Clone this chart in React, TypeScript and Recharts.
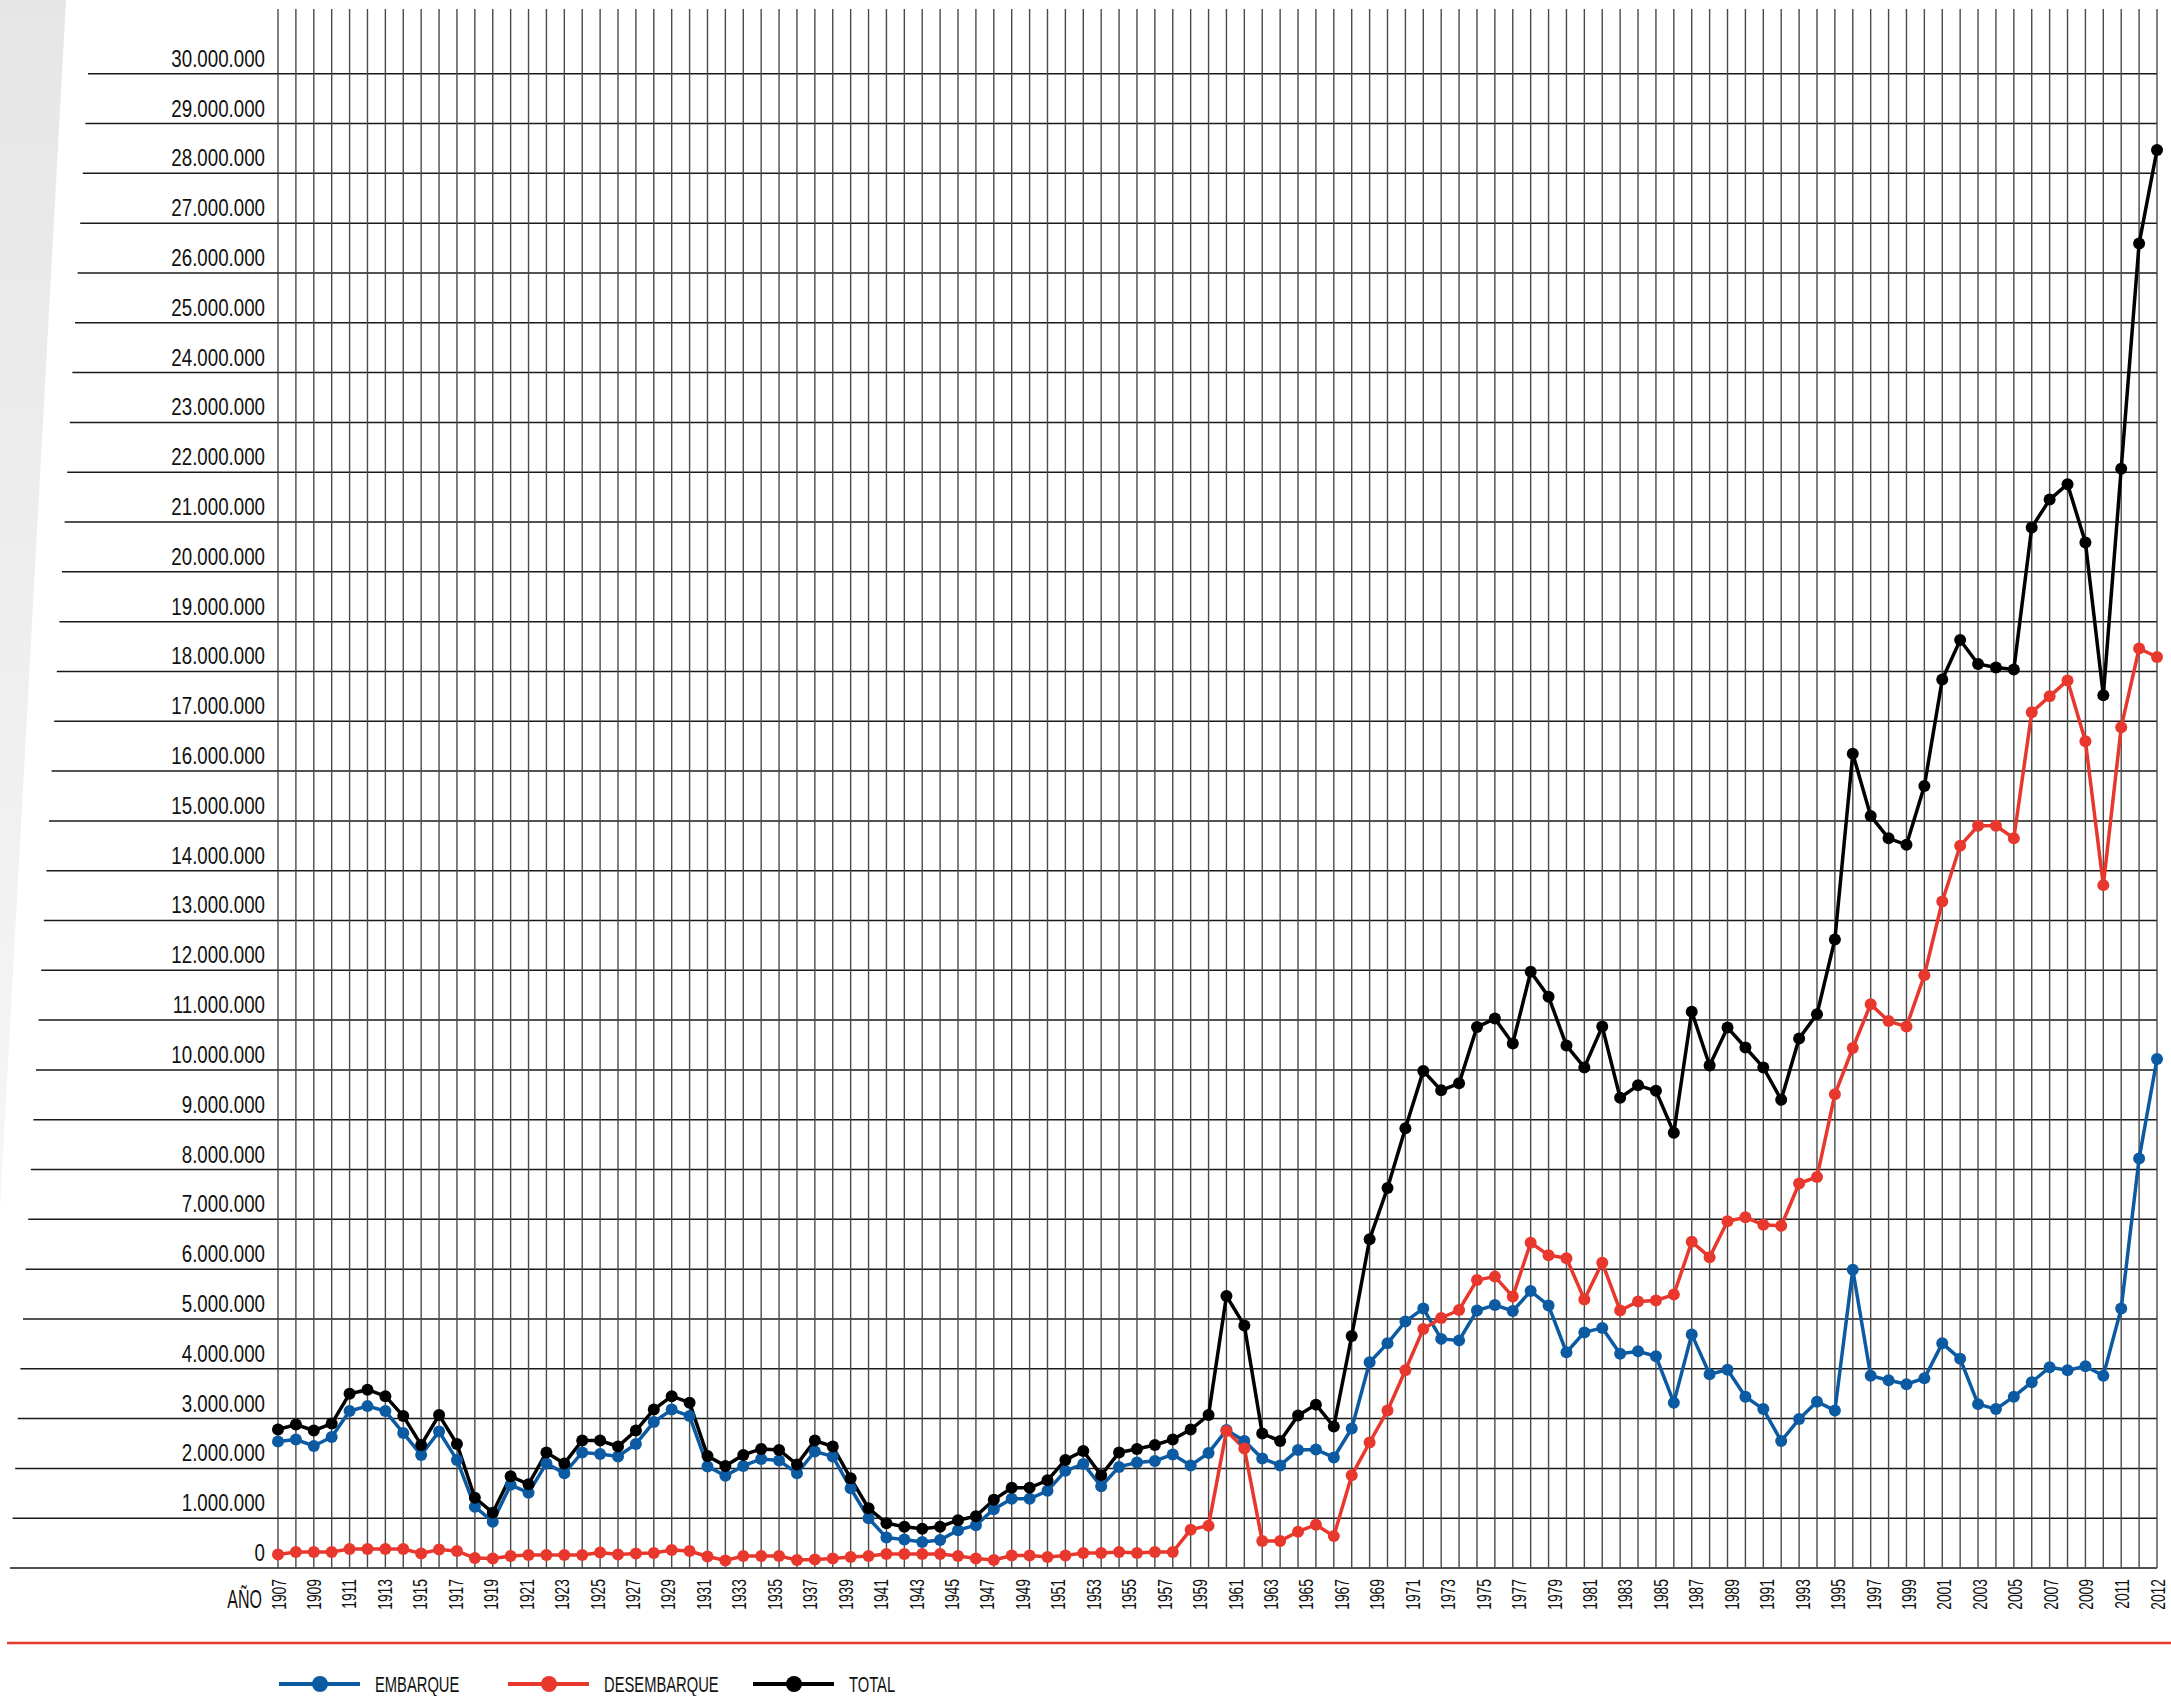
import React from 'react';
import { LineChart, Line, XAxis, YAxis, CartesianGrid, Legend } from 'recharts';

// años 1907 - 2012
const years = Array.from({ length: 106 }, (_, i) => 1907 + i);

// valores en millones
const embarque = [
  2.54, 2.58, 2.45, 2.63, 3.15, 3.25, 3.15, 2.71, 2.27, 2.74,
  2.17, 1.23, 0.93, 1.67, 1.51, 2.10, 1.90, 2.32, 2.29, 2.24,
  2.49, 2.93, 3.18, 3.05, 2.04, 1.85, 2.05, 2.19, 2.16, 1.90,
  2.34, 2.24, 1.60, 1.00, 0.61, 0.57, 0.52, 0.56, 0.76, 0.86,
  1.18, 1.39, 1.39, 1.55, 1.95, 2.09, 1.64, 2.03, 2.12, 2.15,
  2.28, 2.06, 2.31, 2.77, 2.55, 2.20, 2.06, 2.37, 2.38, 2.22,
  2.80, 4.13, 4.51, 4.95, 5.21, 4.60, 4.57, 5.17, 5.28, 5.16,
  5.56, 5.27, 4.33, 4.73, 4.82, 4.30, 4.35, 4.25, 3.32, 4.69,
  3.89, 3.98, 3.44, 3.19, 2.55, 2.99, 3.34, 3.16, 5.99, 3.86,
  3.77, 3.69, 3.81, 4.51, 4.20, 3.29, 3.19, 3.44, 3.73, 4.03,
  3.97, 4.05, 3.86, 5.21, 8.22, 10.22,
];

const desembarque = [
  0.27, 0.32, 0.32, 0.32, 0.38, 0.38, 0.38, 0.38, 0.29, 0.37,
  0.34, 0.20, 0.19, 0.24, 0.26, 0.26, 0.26, 0.26, 0.31, 0.27,
  0.29, 0.30, 0.36, 0.34, 0.23, 0.15, 0.24, 0.24, 0.24, 0.16,
  0.17, 0.19, 0.22, 0.24, 0.28, 0.28, 0.28, 0.28, 0.24, 0.19,
  0.16, 0.25, 0.25, 0.22, 0.25, 0.30, 0.30, 0.32, 0.30, 0.32,
  0.32, 0.77, 0.85, 2.75, 2.40, 0.54, 0.54, 0.73, 0.87, 0.64,
  1.86, 2.52, 3.16, 3.97, 4.80, 5.02, 5.18, 5.78, 5.85, 5.45,
  6.53, 6.28, 6.22, 5.39, 6.13, 5.17, 5.35, 5.37, 5.49, 6.55,
  6.24, 6.96, 7.04, 6.89, 6.87, 7.72, 7.85, 9.51, 10.44, 11.32,
  10.98, 10.87, 11.90, 13.38, 14.50, 14.90, 14.90, 14.65, 17.18, 17.50,
  17.82, 16.60, 13.71, 16.88, 18.46, 18.29,
];

const total = [
  2.78, 2.88, 2.76, 2.90, 3.50, 3.58, 3.45, 3.05, 2.47, 3.07,
  2.49, 1.41, 1.11, 1.84, 1.68, 2.32, 2.10, 2.56, 2.56, 2.44,
  2.76, 3.18, 3.45, 3.32, 2.25, 2.05, 2.27, 2.39, 2.37, 2.08,
  2.56, 2.44, 1.80, 1.20, 0.90, 0.83, 0.79, 0.83, 0.96, 1.04,
  1.37, 1.61, 1.61, 1.76, 2.17, 2.35, 1.86, 2.32, 2.39, 2.47,
  2.58, 2.78, 3.07, 5.46, 4.87, 2.70, 2.55, 3.06, 3.28, 2.84,
  4.66, 6.60, 7.63, 8.83, 9.98, 9.59, 9.73, 10.86, 11.03, 10.53,
  11.97, 11.47, 10.49, 10.05, 10.87, 9.44, 9.69, 9.58, 8.74, 11.17,
  10.09, 10.85, 10.45, 10.05, 9.40, 10.63, 11.12, 12.62, 16.35, 15.10,
  14.65, 14.52, 15.70, 17.84, 18.63, 18.15, 18.08, 18.04, 20.89, 21.45,
  21.76, 20.59, 17.52, 22.07, 26.59, 28.47,
];

const yTicks = [
  0, 1000000, 2000000, 3000000, 4000000, 5000000, 6000000, 7000000, 8000000, 9000000,
  10000000, 11000000, 12000000, 13000000, 14000000, 15000000, 16000000, 17000000, 18000000,
  19000000, 20000000, 21000000, 22000000, 23000000, 24000000, 25000000, 26000000, 27000000,
  28000000, 29000000, 30000000,
];

// años rotulados: impares + el último
const labelYears = [...years.filter((y) => y % 2 === 1), 2012];

const BLUE = '#0b5aa2';
const RED = '#e8382d';
const BLACK = '#000000';
const FONT = "'Liberation Sans', Arial, sans-serif";

const data = years.map((year, i) => ({
  year,
  embarque: embarque[i] * 1000000,
  desembarque: desembarque[i] * 1000000,
  total: total[i] * 1000000,
}));

const fmt = (v: number) => String(v).replace(/\B(?=(\d{3})+(?!\d))/g, '.');

const YTick = (props: any) => {
  const { x, y, payload } = props;
  const v = payload.value;
  // las líneas se prolongan hacia la izquierda con borde inclinado
  const xLeft = 10 + 78 * (v / 30000000);
  return (
    <g>
      <line x1={xLeft} x2={x} y1={y} y2={y} stroke="#1a1a1a" strokeWidth={1.5} />
      <g transform={`translate(${x - 13},${y - 7}) scale(0.78,1)`}>
        <text textAnchor="end" fontSize={24} fill="#111" fontFamily={FONT}>{fmt(v)}</text>
      </g>
    </g>
  );
};

const XTick = (props: any) => {
  const { x, y, payload } = props;
  const yr = Number(payload.value);
  if (!labelYears.includes(yr)) return <g />;
  // los rótulos del original se van corriendo un poco a la izquierda
  const drift = yr === 2012 ? 0 : (-17.9 * (yr - 1907)) / 104;
  return (
    <g transform={`translate(${x + 7.5 + drift},${y + 11}) rotate(-90) scale(0.66,1)`}>
      <text textAnchor="end" fontSize={21} fill="#111" fontFamily={FONT}>{yr}</text>
    </g>
  );
};

const AxisTitle = (props: any) => {
  const { viewBox } = props;
  return (
    <g transform={`translate(${viewBox.x - 16},${viewBox.y + 40}) scale(0.64,1)`}>
      <text textAnchor="end" fontSize={25} fill="#111" fontFamily={FONT}>AÑO</text>
    </g>
  );
};

const legendPos: Record<string, number> = { embarque: 279, desembarque: 508, total: 753 };

const renderLegend = (props: any) => {
  const items = props.payload || [];
  return (
    <svg width={2171} height={76} style={{ display: 'block' }}>
      <line x1={7} x2={2171} y1={23} y2={23} stroke={RED} strokeWidth={2.5} />
      {items.map((it: any) => {
        const x0 = legendPos[it.dataKey] ?? 0;
        return (
          <g key={it.dataKey}>
            <line x1={x0} x2={x0 + 81} y1={64} y2={64} stroke={it.color} strokeWidth={4} />
            <circle cx={x0 + 41} cy={64} r={8} fill={it.color} />
            <g transform={`translate(${x0 + 96},${72}) scale(0.67,1)`}>
              <text fontSize={22} fill="#111" fontFamily={FONT}>{it.value}</text>
            </g>
          </g>
        );
      })}
    </svg>
  );
};

export default function App() {
  return (
    <div style={{ position: 'absolute', left: 0, top: 0, width: 2171, height: 1696, background: '#fff' }}>
      <svg width={2171} height={1696} style={{ position: 'absolute', left: 0, top: 0 }}>
        <defs>
          <linearGradient id="fade" x1="0" y1="0" x2="0" y2="1">
            <stop offset="0%" stopColor="#e6e6e6" />
            <stop offset="100%" stopColor="#f6f6f6" />
          </linearGradient>
        </defs>
        <polygon points="0,0 66,0 0,1210" fill="url(#fade)" />
      </svg>
      <div style={{ position: 'absolute', left: 0, top: 0 }}>
        <LineChart width={2171} height={1696} data={data} margin={{ top: 9, right: 14, left: 0, bottom: 68 }}>
          <CartesianGrid vertical={false} horizontal stroke="#1a1a1a" strokeWidth={1.5} syncWithTicks />
          <CartesianGrid horizontal={false} vertical stroke="#4a4a4a" strokeWidth={1.4} syncWithTicks />
          <XAxis
            dataKey="year"
            interval={0}
            height={60}
            axisLine={false}
            tickLine={false}
            tickSize={0}
            tickMargin={0}
            tick={<XTick />}
            label={<AxisTitle />}
          />
          <YAxis
            type="number"
            domain={[0, 31300000]}
            ticks={yTicks}
            interval={0}
            width={278}
            axisLine={false}
            tickLine={false}
            tickSize={0}
            tickMargin={0}
            tick={<YTick />}
          />
          <Legend
            layout="horizontal"
            verticalAlign="middle"
            align="center"
            content={renderLegend}
            wrapperStyle={{ top: 1620, left: 0, width: 2171, height: 76 }}
          />
          <Line type="linear" dataKey="embarque" name="EMBARQUE" stroke={BLUE} strokeWidth={3.5}
            dot={{ r: 6, fill: BLUE, stroke: BLUE, strokeWidth: 0 }} activeDot={false} isAnimationActive={false} />
          <Line type="linear" dataKey="desembarque" name="DESEMBARQUE" stroke={RED} strokeWidth={3.5}
            dot={{ r: 6, fill: RED, stroke: RED, strokeWidth: 0 }} activeDot={false} isAnimationActive={false} />
          <Line type="linear" dataKey="total" name="TOTAL" stroke={BLACK} strokeWidth={3.5}
            dot={{ r: 6, fill: BLACK, stroke: BLACK, strokeWidth: 0 }} activeDot={false} isAnimationActive={false} />
        </LineChart>
      </div>
    </div>
  );
}
